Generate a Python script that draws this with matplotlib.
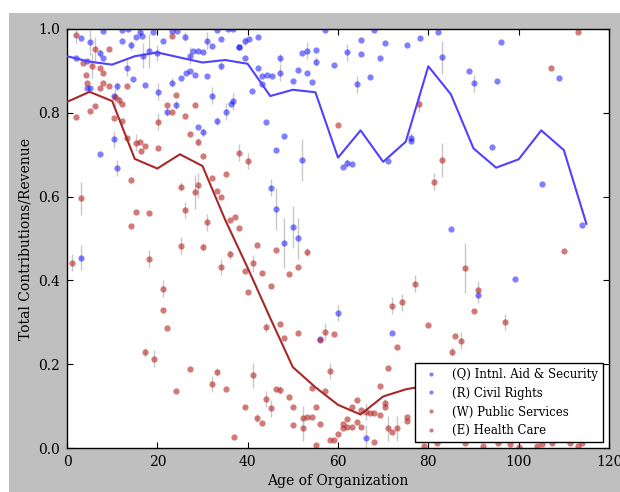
import matplotlib
matplotlib.use("Agg")
import matplotlib.pyplot as plt
import matplotlib.patches as patches
import numpy as np

plt.rcParams['font.family'] = ['DejaVu Serif']

# binned mean lines
line_x = [0, 5, 10, 15, 20, 25, 30, 35, 40, 45, 50, 55, 60, 65, 70, 75, 80,
          85, 90, 95, 100, 105, 110, 115]
blue_line = [0.935, 0.922, 0.915, 0.935, 0.944, 0.932, 0.920, 0.926, 0.917, 0.840,
             0.855, 0.849, 0.693, 0.758, 0.683, 0.731, 0.911, 0.844, 0.715, 0.669,
             0.689, 0.758, 0.711, 0.535]
red_line_x = [0, 5, 10, 15, 20, 25, 30, 35, 40, 45, 50, 55, 60, 65, 70, 75, 80]
red_line = [0.826, 0.850, 0.828, 0.690, 0.667, 0.701, 0.673, 0.545, 0.430, 0.310,
            0.193, 0.145, 0.103, 0.080, 0.123, 0.140, 0.150]

# blue organizations (Q, R)
blue_x = [8.0, 12.1, 13.4, 16.2, 19.1, 23.2, 24.3, 33.1, 35.7, 36.8,
          3.2, 5.2, 12.1, 15.3, 16.5, 14.1, 21.3, 26.1, 30.9, 32.0, 34.2, 39.4,
          7.2, 8.0, 16.9, 18.2, 19.9, 28.0, 29.1, 30.2, 27.2, 38.1, 38.1, 39.4,
          2.0, 4.4, 13.2, 25.2, 26.3, 27.2, 28.3, 30.9, 34.2, 14.7, 17.3, 4.4, 5.2,
          11.1, 10.3, 20.1, 23.2, 22.1, 24.1, 32.2, 36.8, 36.2, 35.1, 33.1, 29.1,
          30.2, 10.3, 7.2, 11.1,
          40.3, 42.2, 57.1, 68.0, 53.1, 52.1, 55.1, 55.1, 47.2, 42.2, 43.1, 44.2,
          45.3, 47.2, 51.2, 50.1, 53.1, 54.2, 59.2, 62.1, 65.1, 65.2, 70.3, 75.3,
          78.1, 69.2, 67.1, 64.1, 41.0, 43.1, 44.1, 48.1, 46.2, 52.1, 61.0, 62.1,
          63.2, 71.1, 76.2, 76.2, 45.2, 46.2, 50.1, 51.2,
          48.1, 60.1, 56.1, 72.0, 66.1, 3.2,
          82.2, 83.1, 96.1, 89.1, 90.1, 95.1, 109.0, 94.2, 105.1, 85.0, 114.0,
          99.2, 91.1]
blue_y = [0.996, 0.998, 1.0, 0.994, 0.992, 0.996, 0.996, 0.998, 1.0, 1.0,
          0.979, 0.968, 0.972, 0.982, 0.984, 0.961, 0.972, 0.982, 0.972, 0.960, 0.976, 0.972,
          0.942, 0.931, 0.936, 0.948, 0.943, 0.948, 0.947, 0.944, 0.936, 0.958, 0.958, 0.930,
          0.930, 0.924, 0.908, 0.884, 0.896, 0.899, 0.891, 0.888, 0.912, 0.880, 0.866, 0.859, 0.859,
          0.864, 0.841, 0.850, 0.872, 0.803, 0.818, 0.841, 0.827, 0.822, 0.803, 0.781, 0.765,
          0.753, 0.737, 0.701, 0.668,
          0.976, 0.980, 0.998, 0.998, 0.948, 0.942, 0.951, 0.922, 0.930, 0.908, 0.887, 0.891,
          0.887, 0.896, 0.903, 0.875, 0.894, 0.874, 0.913, 0.944, 0.974, 0.940, 0.967, 0.961,
          0.979, 0.930, 0.886, 0.868, 0.853, 0.868, 0.779, 0.744, 0.711, 0.687, 0.671, 0.680,
          0.677, 0.685, 0.741, 0.733, 0.621, 0.571, 0.527, 0.500,
          0.489, 0.322, 0.261, 0.274, 0.025, 0.454,
          0.992, 0.932, 0.970, 0.899, 0.870, 0.875, 0.884, 0.719, 0.629, 0.523, 0.533,
          0.404, 0.366]
blue_err = [0, 0, 0, 0.01, 0, 0, 0, 0, 0, 0,
            0, 0.03, 0, 0, 0, 0.01, 0, 0.01, 0.02, 0, 0, 0.01,
            0.01, 0, 0.03, 0.04, 0.02, 0, 0, 0, 0.02, 0, 0, 0,
            0, 0, 0.02, 0, 0, 0, 0, 0, 0.01, 0, 0, 0, 0,
            0.01, 0, 0.02, 0.01, 0.01, 0.01, 0.02, 0.02, 0, 0.02, 0.01, 0,
            0.01, 0.02, 0, 0.02,
            0, 0, 0, 0, 0.02, 0, 0, 0.01, 0.01, 0, 0, 0,
            0, 0.02, 0, 0, 0, 0, 0, 0.02, 0, 0, 0, 0,
            0, 0, 0, 0.02, 0, 0, 0, 0, 0, 0.05, 0, 0.01,
            0, 0, 0.01, 0, 0.02, 0.05, 0.05, 0.05,
            0.06, 0.02, 0, 0, 0.03, 0.03,
            0, 0.04, 0, 0, 0.02, 0, 0, 0, 0, 0, 0,
            0, 0.02]

# red organizations (W, E)
red_x = [2.0, 6.2, 9.4, 23.2, 3.5, 5.6, 7.3, 8.0, 4.2, 4.4, 7.2, 8.0, 9.4, 13.2,
         10.6, 11.6, 12.1, 5.2, 6.2, 2.0, 10.3, 12.1, 13.2, 15.3, 16.2, 16.4, 17.3,
         20.1, 20.1, 22.2, 23.2, 24.1, 26.1, 27.2, 28.3, 29.1, 30.2, 32.0, 33.1,
         34.2, 35.1, 38.1, 40.1, 14.1, 25.2, 28.3, 29.1, 3.2, 15.3, 18.2, 26.1,
         14.1, 31.0, 36.1, 37.2, 38.1,
         60.1, 77.9, 113.1, 107.1, 83.1, 81.2,
         1.2, 18.2, 25.2, 30.2, 34.2, 36.1, 39.3, 40.1, 21.3, 21.3, 22.2, 17.3,
         19.3, 27.2, 33.2, 32.0, 35.1, 24.1, 39.3, 37.0,
         42.1, 46.2, 41.1, 43.1, 45.2, 49.2, 51.2, 53.1, 44.1, 47.2, 48.1, 51.2,
         41.1, 42.1, 43.1, 44.1, 45.2, 46.2, 47.2, 49.2, 50.1, 50.1, 52.2, 52.2,
         53.2, 77.0, 72.0, 74.1, 79.9, 57.2, 59.2, 56.1, 73.1, 58.2, 71.1, 54.2,
         54.2, 55.1, 56.1, 57.2, 55.1, 58.2, 59.2, 60.1, 61.0, 61.0, 62.1, 62.1,
         63.2, 63.2, 64.1, 64.1, 65.1, 65.1, 66.1, 67.1, 68.0, 69.3, 69.3, 70.3,
         70.3, 68.0, 71.1, 72.0, 73.1, 75.2, 75.2, 79.1,
         110.0, 88.1, 91.1, 90.1, 97.0, 86.0, 87.2, 85.2,
         82.0, 88.1, 92.0, 95.5, 98.1, 100.0, 104.0, 105.1, 107.3, 111.4, 113.2, 114.0]
red_y = [0.986, 0.952, 0.952, 0.984, 0.918, 0.912, 0.908, 0.896, 0.891, 0.870, 0.860,
         0.870, 0.864, 0.864, 0.837, 0.830, 0.822, 0.805, 0.817, 0.790, 0.787, 0.781,
         0.741, 0.729, 0.731, 0.709, 0.721, 0.779, 0.717, 0.819, 0.803, 0.842, 0.793,
         0.750, 0.819, 0.731, 0.697, 0.645, 0.613, 0.599, 0.655, 0.705, 0.685, 0.640,
         0.624, 0.611, 0.627, 0.596, 0.564, 0.560, 0.568, 0.530, 0.539, 0.543, 0.551,
         0.524,
         0.771, 0.821, 0.994, 0.907, 0.687, 0.636,
         0.442, 0.452, 0.483, 0.479, 0.432, 0.462, 0.423, 0.372, 0.380, 0.329, 0.286,
         0.228, 0.213, 0.188, 0.182, 0.153, 0.141, 0.136, 0.099, 0.026,
         0.485, 0.473, 0.441, 0.418, 0.387, 0.416, 0.433, 0.468, 0.288, 0.296, 0.262,
         0.274, 0.174, 0.071, 0.060, 0.117, 0.095, 0.140, 0.138, 0.122, 0.097, 0.055,
         0.047, 0.071, 0.073, 0.392, 0.340, 0.348, 0.294, 0.278, 0.272, 0.258, 0.241,
         0.184, 0.191, 0.073, 0.143, 0.099, 0.057, 0.135, 0.007, 0.018, 0.018, 0.034,
         0.047, 0.057, 0.069, 0.050, 0.051, 0.099, 0.115, 0.061, 0.091, 0.050, 0.087,
         0.083, 0.083, 0.079, 0.149, 0.107, 0.099, 0.015, 0.047, 0.039, 0.047, 0.075,
         0.065, 0.005,
         0.470, 0.430, 0.378, 0.326, 0.301, 0.268, 0.256, 0.230,
         0.011, 0.012, 0.005, 0.011, 0.009, 0.003, 0.004, 0.010, 0.011, 0.011, 0.005, 0.012]
red_err = [0.02, 0.03, 0, 0, 0, 0.03, 0, 0, 0, 0, 0, 0, 0, 0,
           0.02, 0.01, 0, 0, 0, 0, 0, 0, 0, 0.02, 0, 0, 0,
           0.02, 0, 0, 0, 0, 0, 0, 0, 0.01, 0, 0, 0,
           0, 0, 0.02, 0.02, 0, 0.01, 0.04, 0.03, 0.04, 0, 0, 0.02,
           0, 0.02, 0, 0, 0,
           0, 0.02, 0, 0, 0.04, 0.02,
           0.02, 0.02, 0.02, 0.01, 0.02, 0.01, 0, 0, 0.02, 0, 0, 0.01,
           0.02, 0, 0.01, 0.02, 0, 0, 0, 0,
           0, 0, 0.02, 0, 0, 0, 0, 0.01, 0.01, 0, 0, 0,
           0.03, 0.01, 0, 0.02, 0.02, 0, 0.01, 0, 0, 0, 0.03, 0.03,
           0, 0.02, 0.02, 0.02, 0, 0.02, 0, 0, 0, 0.02, 0, 0,
           0, 0, 0, 0, 0, 0, 0, 0, 0, 0, 0, 0,
           0, 0, 0, 0, 0, 0, 0.02, 0, 0, 0, 0, 0.01,
           0, 0, 0.03, 0, 0.03, 0, 0, 0,
           0, 0.06, 0.02, 0, 0.02, 0, 0.02, 0.01,
           0, 0, 0, 0, 0, 0, 0, 0, 0, 0, 0, 0]

labels = ['(Q) Intnl. Aid & Security', '(R) Civil Rights',
          '(W) Public Services', '(E) Health Care']

fig = plt.figure(figsize=(6.2, 4.92), dpi=100, facecolor='white')
# gray figure panel (screenshot has a thin white margin top/left)
bg = patches.Rectangle((9 / 620, 0), 1, 1 - 13 / 492, transform=fig.transFigure,
                       facecolor='#bfbfbf', edgecolor='none', zorder=-10)
fig.patches.append(bg)
ax = fig.add_axes([67 / 620, 44 / 492, 542 / 620, 419 / 492])
ax.set_zorder(1)

ax.errorbar(blue_x, blue_y, yerr=blue_err, fmt='none', ecolor='#c8c8c8', elinewidth=1, zorder=1)
ax.errorbar(red_x, red_y, yerr=red_err, fmt='none', ecolor='#c8c8c8', elinewidth=1, zorder=1)

ax.plot(blue_x, blue_y, 'o', color='blue', alpha=0.5, ms=4.5, mew=0, zorder=2)
ax.plot(red_x, red_y, 'o', color='#b22222', alpha=0.6, ms=4.5, mew=0, zorder=2)

ax.plot(line_x, blue_line, '-', color='#5040ff', lw=1.5, zorder=3)
ax.plot(red_line_x, red_line, '-', color='#a82828', lw=1.5, zorder=3)

# legend handles (same colours for the two groups)
for lab, c, a in zip(labels, ['blue', 'blue', '#b22222', '#b22222'], [0.5, 0.5, 0.6, 0.6]):
    ax.plot([], [], 'o', color=c, alpha=a, ms=3, mew=0, label=lab)

leg = ax.legend(loc='lower right', numpoints=1, fontsize=8.5, fancybox=False,
                framealpha=1, edgecolor='black', borderaxespad=0.5)
leg.get_frame().set_linewidth(1)
leg.set_zorder(5)

ax.set_xlim(0, 120)
ax.set_ylim(0, 1.0)
ax.set_xticks(np.arange(0, 121, 20))
ax.set_yticks(np.arange(0, 1.01, 0.2))
ax.tick_params(direction='in', top=True, right=True, length=4, labelsize=10, pad=5)
for s in ax.spines.values():
    s.set_linewidth(1)

ax.set_xlabel('Age of Organization', fontsize=10)
ax.set_ylabel('Total Contributions/Revenue', fontsize=10)

fig.savefig('out.png', dpi=100, facecolor=fig.get_facecolor())
